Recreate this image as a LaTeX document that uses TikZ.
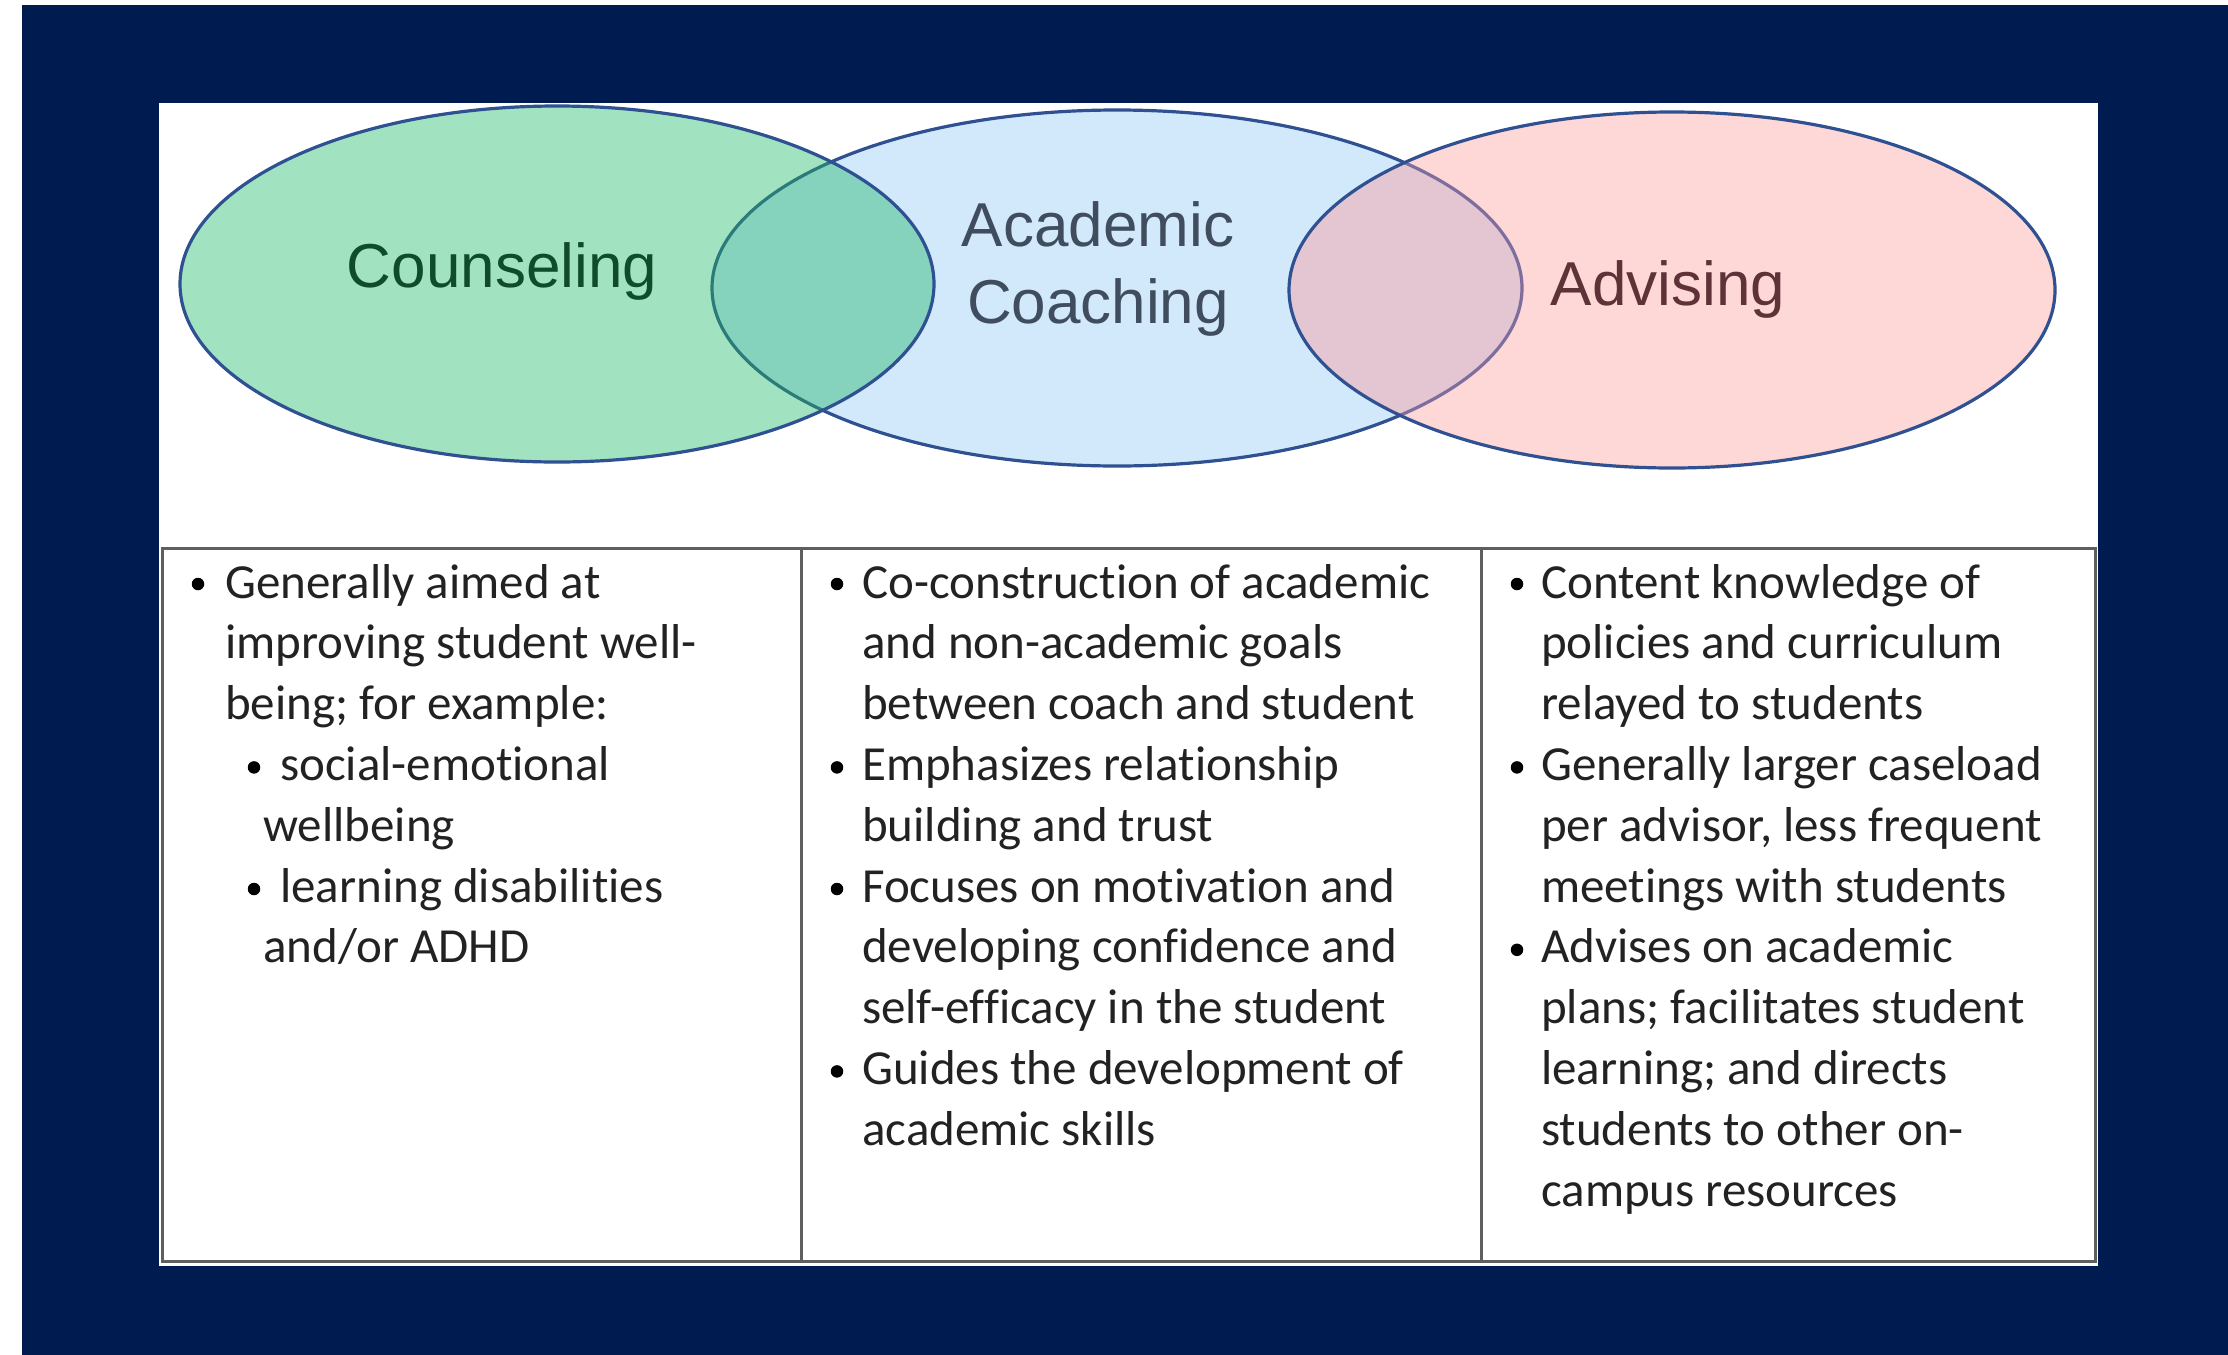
\documentclass[tikz,border=0pt]{standalone}
\usepackage{fontspec}
\setmainfont{Carlito}
\newfontfamily\arialf{Liberation Sans}
\newfontfamily\calf[Ligatures=NoCommon]{Carlito}
\definecolor{navy}{HTML}{001B50}
\definecolor{greenf}{HTML}{A1E3C0}
\definecolor{bluef}{HTML}{D2E9FC}
\definecolor{pinkf}{HTML}{FED7D7}
\definecolor{tealf}{HTML}{86D3BD}
\definecolor{mauvef}{HTML}{E3C6D2}
\definecolor{estroke}{HTML}{2F5192}
\definecolor{tealst}{HTML}{2A7B7A}
\definecolor{mauvest}{HTML}{7D6E9E}
\definecolor{txtgray}{HTML}{222222}
\definecolor{tline}{HTML}{5F5F5F}
\definecolor{cgreen}{HTML}{0F4C2C}
\definecolor{cslate}{HTML}{3F4D5E}
\definecolor{cbrown}{HTML}{5E3236}
\begin{document}
\begin{tikzpicture}[x=1pt,y=-1pt,
  ln/.style={anchor=base west,inner sep=0pt,text=txtgray,font=\calf\fontsize{49}{61}\selectfont},
  bul/.style={circle,fill=black,inner sep=0pt,minimum size=12.5pt},
  head/.style={inner sep=0pt,anchor=base,font=\arialf\fontsize{62}{76}\selectfont},
  edge/.style={line width=3.2pt,draw=estroke},
  tbl/.style={line width=3pt,draw=tline}]
\useasboundingbox (0,0) rectangle (2228,1355);
\fill[white] (0,0) rectangle (2228,1355);
\fill[navy] (22,5) rectangle (2228,1355);
\fill[white] (159,103) rectangle (2098,1266);
% --- Venn ellipses ---
\def\acad{(1117,288) ellipse [x radius=405pt, y radius=178pt]}
\def\coun{(557,284) ellipse [x radius=377pt, y radius=178pt]}
\def\advi{(1672,290) ellipse [x radius=383pt, y radius=178pt]}
\fill[bluef] \acad;
\draw[edge] \acad;
\fill[greenf] \coun;
\begin{scope}
  \clip \coun;
  \fill[tealf] \acad;
  \draw[line width=3.2pt,draw=tealst] \acad;
\end{scope}
\draw[edge] \coun;
\fill[pinkf] \advi;
\begin{scope}
  \clip \advi;
  \fill[mauvef] \acad;
  \draw[line width=3.2pt,draw=mauvest] \acad;
\end{scope}
\draw[edge] \advi;
\node[head,text=cgreen] (hcoun) at (502,287) {Counseling};
\node[head,text=cslate] (hacad1) at (1098,246) {Academic};
\node[head,text=cslate] (hacad2) at (1098,323) {Coaching};
\node[head,text=cbrown] (hadvi) at (1668,305) {Advising};
% --- table ---
\coordinate (tl) at (162,548);
\coordinate (br) at (2095,1261);
\coordinate (d1t) at (801,548);
\coordinate (d1b) at (801,1261);
\coordinate (d2t) at (1481,548);
\coordinate (d2b) at (1481,1261);
\draw[tbl] (tl) rectangle (br);
\draw[tbl] (d1t) -- (d1b);
\draw[tbl] (d2t) -- (d2b);
% column 1
\node[bul] (b10) at (198,584) {};
\node[ln] (a0) at (225,598) {Generally aimed at};
\node[ln] (a1) at (225,658.8) {improving student well-};
\node[ln] (a2) at (225,719.6) {being; for example:};
\node[bul] (b13) at (254,767.4) {};
\node[ln] (a3) at (280,780.4) {social-emotional};
\node[ln] (a4) at (263,841.2) {wellbeing};
\node[bul] (b15) at (254,889) {};
\node[ln] (a5) at (280,902) {learning disabilities};
\node[ln] (a6) at (263,962.8) {and/or ADHD};
% column 2
\node[bul] (b20) at (837,584) {};
\node[ln] (c0) at (862,598) {Co-construction of academic};
\node[ln] (c1) at (862,658.8) {and non-academic goals};
\node[ln] (c2) at (862,719.6) {between coach and student};
\node[bul] (b23) at (837,767.4) {};
\node[ln] (c3) at (862,780.4) {Emphasizes relationship};
\node[ln] (c4) at (862,841.2) {building and trust};
\node[bul] (b25) at (837,889) {};
\node[ln] (c5) at (862,902) {Focuses on motivation and};
\node[ln] (c6) at (862,962.8) {developing confidence and};
\node[ln] (c7) at (862,1023.6) {self-efficacy in the student};
\node[bul] (b28) at (837,1071.4) {};
\node[ln] (c8) at (862,1084.4) {Guides the development of};
\node[ln] (c9) at (862,1145.2) {academic skills};
% column 3
\node[bul] (b30) at (1517,584) {};
\node[ln] (e0) at (1541,598) {Content knowledge of};
\node[ln] (e1) at (1541,658.8) {policies and curriculum};
\node[ln] (e2) at (1541,719.6) {relayed to students};
\node[bul] (b33) at (1517,767.4) {};
\node[ln] (e3) at (1541,780.4) {Generally larger caseload};
\node[ln] (e4) at (1541,841.2) {per advisor, less frequent};
\node[ln] (e5) at (1541,902) {meetings with students};
\node[bul] (b36) at (1517,949.8) {};
\node[ln] (e6) at (1541,962.8) {Advises on academic};
\node[ln] (e7) at (1541,1023.6) {plans; facilitates student};
\node[ln] (e8) at (1541,1084.4) {learning; and directs};
\node[ln] (e9) at (1541,1145.2) {students to other on-};
\node[ln] (e10) at (1541,1206) {campus resources};
\end{tikzpicture}
\end{document}
